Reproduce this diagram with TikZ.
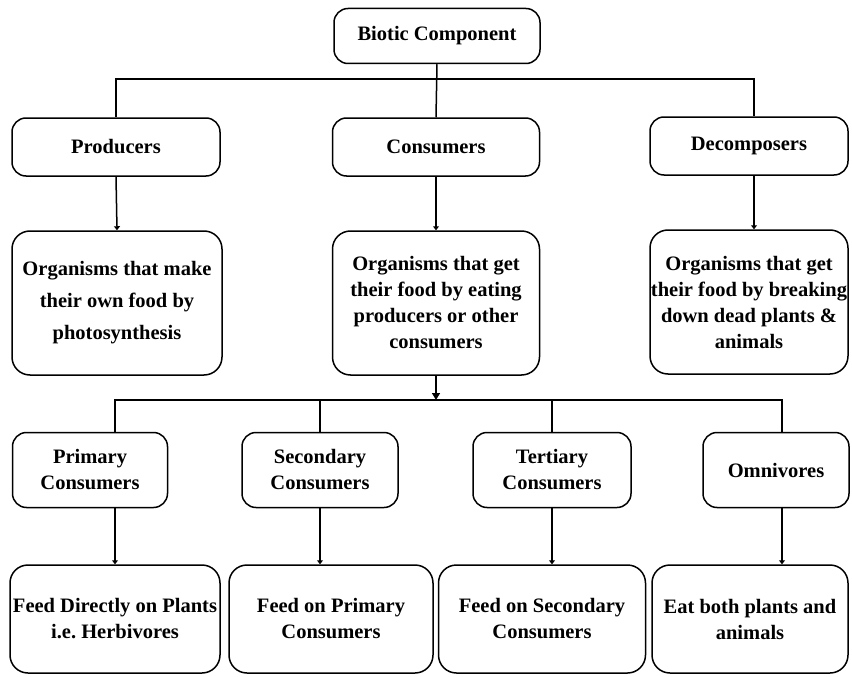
\documentclass[tikz,border=0pt]{standalone}
\usepackage{fontspec}
\setmainfont{Liberation Serif}
\usetikzlibrary{arrows.meta,calc}

\begin{document}
\begin{tikzpicture}[x=1pt,y=-1pt,
  box/.style={draw, line width=1.5pt, rounded corners=14pt, align=center,
    inner sep=0pt, font=\bfseries\fontsize{20.5}{26}\selectfont},
  head/.style={box, minimum height=58pt},
  desc/.style={box, rounded corners=18pt, minimum height=144pt},
  leaf/.style={box, rounded corners=18pt, minimum height=108pt},
  link/.style={line width=1.5pt},
  tip/.style={link, -{Triangle[width=6pt,length=4pt]}},
  bigtip/.style={link, -{Triangle[width=8pt,length=7pt]}}
]
\useasboundingbox (0,0) rectangle (852,677);

% root
\node[box, minimum width=206pt, minimum height=55pt] (bio) at (437,36) {Biotic Component};

% first level
\node[head, minimum width=208pt] (prod) at (116,147) {Producers};
\node[head, minimum width=207pt] (cons) at (436,147) {Consumers};
\node[head, minimum width=198pt] (dec)  at (749,146) {Decomposers};

\node[desc, minimum width=210pt, font=\bfseries\fontsize{20.5}{32}\selectfont] (pdesc) at (117,303)
  {Organisms that make\\their own food by\\photosynthesis};
\node[desc, minimum width=207pt] (cdesc) at (436,303)
  {Organisms that get\\their food by eating\\producers or other\\consumers};
\node[desc, minimum width=198pt] (ddesc) at (749,302)
  {Organisms that get\\their food by breaking\\down dead plants \&\\animals};

% consumer types
\node[box, minimum width=155pt, minimum height=75pt] (pc) at (90,470)  {Primary\\Consumers};
\node[box, minimum width=156pt, minimum height=75pt] (sc) at (320,470) {Secondary\\Consumers};
\node[box, minimum width=158pt, minimum height=75pt] (tc) at (552,470) {Tertiary\\Consumers};
\node[box, minimum width=146pt, minimum height=75pt] (om) at (776,470) {Omnivores};

\node[leaf, minimum width=210pt] (fd) at (115,619) {Feed Directly on Plants\\i.e.\ Herbivores};
\node[leaf, minimum width=204pt] (fp) at (331,619) {Feed on Primary\\Consumers};
\node[leaf, minimum width=207pt] (fs) at (542,619) {Feed on Secondary\\Consumers};
\node[leaf, minimum width=196pt] (eb) at (750,619) {Eat both plants and\\animals};

% upper bus
\coordinate (busA) at (437,79);
\draw[link] (bio.south) -- (cons.north);
\draw[link] (prod.north) |- (busA) -| ([xshift=5pt]dec.north);
\draw[tip] (prod.south) -- (pdesc.north);
\draw[tip] (cons.south) -- (cdesc.north);
\draw[tip] ([xshift=5pt]dec.south) -- ([xshift=5pt]ddesc.north);

% lower bus
\coordinate (busB) at (436,400);
\draw[bigtip] (cdesc.south) -- (busB);
\draw[link] (fd.north |- pc.north) |- (busB) -| ([xshift=6pt]om.north);
\draw[link] (sc.north) -- (sc.north |- busB);
\draw[link] (tc.north) -- (tc.north |- busB);

\draw[tip] (fd.north |- pc.south) -- (fd.north);
\draw[tip] (sc.south) -- (sc.south |- fp.north);
\draw[tip] (tc.south) -- (tc.south |- fs.north);
\draw[tip] ([xshift=6pt]om.south) -- ([xshift=6pt]om.south |- eb.north);
\end{tikzpicture}
\end{document}
